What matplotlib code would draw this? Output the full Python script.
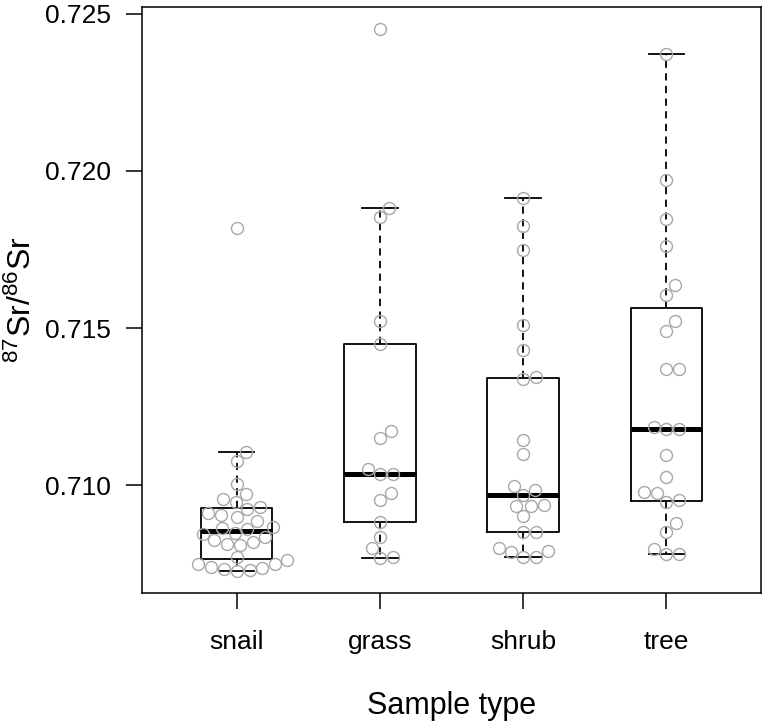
import numpy as np
import matplotlib
matplotlib.use('Agg')
import matplotlib.pyplot as plt

plt.rcParams['font.family'] = ['Liberation Sans', 'DejaVu Sans']

# 87Sr/86Sr values
groups = ['snail', 'grass', 'shrub', 'tree']
snail = [0.70727, 0.70730, 0.70733, 0.70737, 0.70740, 0.70751, 0.70751, 0.70762,
         0.70772, 0.70812, 0.70815, 0.70820, 0.70825, 0.70836, 0.70847, 0.70850,
         0.70860, 0.70864, 0.70867, 0.70886, 0.70901, 0.70905, 0.70912, 0.70926,
         0.70931, 0.70947, 0.70956, 0.70974, 0.71005, 0.71079, 0.71106, 0.71818]
grass = [0.70769, 0.70773, 0.70801, 0.70837, 0.70885, 0.70954, 0.70975, 0.71035,
         0.71035, 0.71052, 0.71150, 0.71172, 0.71449, 0.71522, 0.71853, 0.71882,
         0.72452]
shrub = [0.70774, 0.70774, 0.70788, 0.70791, 0.70802, 0.70852, 0.70852, 0.70902,
         0.70936, 0.70936, 0.70939, 0.70970, 0.70986, 0.70998, 0.71099, 0.71146,
         0.71339, 0.71346, 0.71431, 0.71511, 0.71750, 0.71824, 0.71913]
tree = [0.70783, 0.70783, 0.70798, 0.70853, 0.70881, 0.70947, 0.70953, 0.70975,
        0.70978, 0.71028, 0.71098, 0.71178, 0.71180, 0.71186, 0.71369, 0.71369,
        0.71492, 0.71522, 0.71605, 0.71636, 0.71760, 0.71847, 0.71971, 0.72370]
data = [snail, grass, shrub, tree]


def fivenum(v):
    # same hinges as R's fivenum / boxplot.stats
    x = np.sort(v)
    n = len(x)
    n4 = np.floor((n + 3) / 2) / 2
    d = np.array([1, n4, (n + 1) / 2, n + 1 - n4, n])
    return 0.5 * (x[np.floor(d).astype(int) - 1] + x[np.ceil(d).astype(int) - 1])


stats = []
for v in data:
    lo, q1, med, q3, hi = fivenum(v)
    iqr = q3 - q1
    arr = np.array(v)
    inside = arr[(arr >= q1 - 1.5 * iqr) & (arr <= q3 + 1.5 * iqr)]
    stats.append(dict(med=med, q1=q1, q3=q3, whislo=inside.min(),
                      whishi=inside.max(), fliers=[]))

fig = plt.figure(figsize=(7.65, 7.28), dpi=100)
ax = fig.add_axes([142 / 765, 1 - 593 / 728, 619 / 765, 586 / 728])

ax.bxp(stats, positions=[1, 2, 3, 4], widths=0.5, capwidths=0.25,
       boxprops=dict(color='black', lw=1.3),
       medianprops=dict(color='black', lw=3.6, solid_capstyle='butt'),
       whiskerprops=dict(color='black', lw=1.3, linestyle=(0, (4, 3))),
       capprops=dict(color='black', lw=1.3))

allv = np.concatenate([np.array(v) for v in data])
r = allv.max() - allv.min()
ax.set_xlim(0.34, 4.66)
ax.set_ylim(allv.min() - 0.04 * r, allv.max() + 0.04 * r)


# simple swarm layout (like R beeswarm), done in pixel units
def swarm(ys_px, d):
    order = np.argsort(ys_px, kind='stable')
    xs = np.zeros(len(ys_px))
    placed = []
    for i in order:
        y = ys_px[i]
        cands = [0.0]
        for j in placed:
            dy = y - ys_px[j]
            if abs(dy) < d:
                dx = np.sqrt(d * d - dy * dy)
                cands += [xs[j] + dx, xs[j] - dx]
        ok = []
        for c in cands:
            good = True
            for j in placed:
                if (c - xs[j]) ** 2 + (y - ys_px[j]) ** 2 < d * d - 1e-6:
                    good = False
                    break
            if good:
                ok.append(c)
        xs[i] = min(ok, key=abs)
        placed.append(i)
    return xs


p0 = ax.transData.transform((1, 0.710))
p1 = ax.transData.transform((2, 0.711))
px_x = p1[0] - p0[0]
px_y = (p1[1] - p0[1]) / 0.001
for k, v in enumerate(data):
    yv = np.array(v)
    offs = swarm(yv * px_y, 13) / px_x
    ax.plot(k + 1 + offs, yv, 'o', ms=8.6, mfc='none', mec='#a8a8a8', mew=1.0,
            zorder=5)

ax.set_yticks([0.710, 0.715, 0.720, 0.725])
ax.set_yticklabels(['0.710', '0.715', '0.720', '0.725'])
ax.set_xticks([1, 2, 3, 4])
ax.set_xticklabels(groups)
ax.tick_params(length=11.5, width=1.1, labelsize=19, pad=11, color='black')
ax.tick_params(axis='x', pad=15)
for s in ax.spines.values():
    s.set_linewidth(1.1)

ax.set_xlabel('Sample type', fontsize=22, labelpad=27)
fig.text(22 / 765, 1 - 300 / 728, r'$\mathregular{^{87}Sr/^{86}Sr}$',
         fontsize=23, rotation=90, ha='center', va='center')

fig.savefig('out.png', dpi=100)
